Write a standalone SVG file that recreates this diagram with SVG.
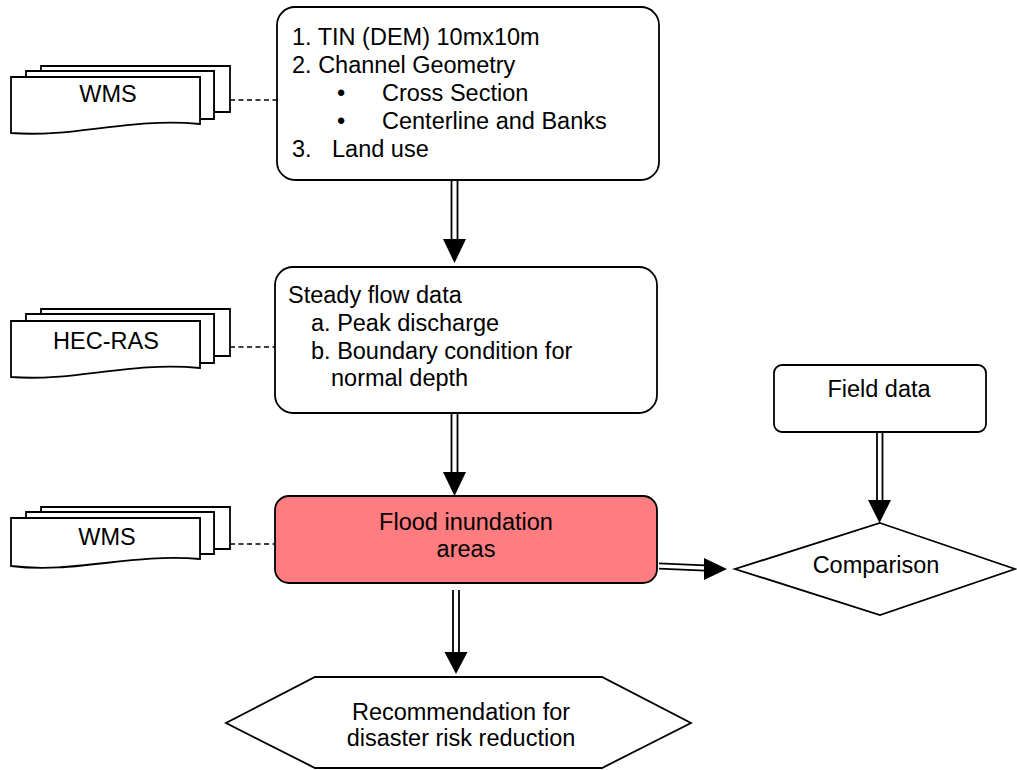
<svg xmlns="http://www.w3.org/2000/svg" width="1017" height="770" viewBox="0 0 1017 770">
<style>
  text { font-family: "Liberation Sans", Arial, sans-serif; font-size: 23.5px; fill: #000; }
  .box { fill: #fff; stroke: #000; stroke-width: 1.8; }
  .doc { fill: #fff; stroke: #000; stroke-width: 1.8; }
  .ln { stroke: #000; stroke-width: 1.8; fill: none; }
  .dash { stroke: #000; stroke-width: 1.5; stroke-dasharray: 5,3.5; fill: none; }
  .head { fill: #000; stroke: none; }
  .c { text-anchor: middle; }
</style>
<rect width="1017" height="770" fill="#fff"/>

<g id="connectors">
  <line class="dash" x1="230" y1="100" x2="277" y2="100"/>
  <line class="dash" x1="230" y1="347" x2="275" y2="347"/>
  <line class="dash" x1="230" y1="544" x2="275" y2="544"/>
  <!-- top to steady -->
  <line class="ln" x1="451.5" y1="180" x2="451.5" y2="240"/>
  <line class="ln" x1="457.5" y1="180" x2="457.5" y2="240"/>
  <polygon class="head" points="443,239 466,239 454.5,263"/>
  <!-- steady to flood -->
  <line class="ln" x1="451.5" y1="413" x2="451.5" y2="473"/>
  <line class="ln" x1="457.5" y1="413" x2="457.5" y2="473"/>
  <polygon class="head" points="443,472 466,472 454.5,496"/>
  <!-- flood to recommendation -->
  <line class="ln" x1="453" y1="590" x2="453" y2="653"/>
  <line class="ln" x1="459" y1="590" x2="459" y2="653"/>
  <polygon class="head" points="444.5,652 467.5,652 456,674"/>
  <!-- field to comparison -->
  <line class="ln" x1="877" y1="432" x2="877" y2="501"/>
  <line class="ln" x1="882.5" y1="432" x2="882.5" y2="501"/>
  <polygon class="head" points="868,500 891,500 879.5,523"/>
  <!-- flood to comparison -->
  <line class="ln" x1="659" y1="563.3" x2="705" y2="565.3"/>
  <line class="ln" x1="659" y1="568.6" x2="705" y2="570.6"/>
  <polygon class="head" points="704,558 704,580 727,569"/>
</g>

<g id="wms-top">
  <path class="doc" d="M41,66 H230 V112 H214 V71 H41 Z"/>
  <path class="doc" d="M26,71 H214 V119 H200 V77 H26 Z"/>
  <path class="doc" d="M11,77 H200 V124 C130,117 75,138 11,133 Z"/>
  <text class="c" x="108" y="102">WMS</text>
</g>

<g id="hecras">
  <path class="doc" d="M41,309 H230 V356 H214 V314 H41 Z"/>
  <path class="doc" d="M26,314 H214 V363 H200 V321 H26 Z"/>
  <path class="doc" d="M11,321 H200 V368 C130,361 75,382 11,377 Z"/>
  <text class="c" x="106" y="349">HEC-RAS</text>
</g>

<g id="wms-bottom">
  <path class="doc" d="M41,507 H230 V549 H214 V512 H41 Z"/>
  <path class="doc" d="M26,512 H214 V554 H200 V518 H26 Z"/>
  <path class="doc" d="M11,518 H200 V559 C130,553 75,574 11,566 Z"/>
  <text class="c" x="107" y="545">WMS</text>
</g>

<g id="terrain-data">
  <rect class="box" x="277" y="7" width="382" height="173" rx="18"/>
  <text x="292" y="45">1. TIN (DEM) 10mx10m</text>
  <text x="292" y="73">2. Channel Geometry</text>
  <text x="341" y="101" class="c">•</text>
  <text x="382" y="101">Cross Section</text>
  <text x="341" y="129" class="c">•</text>
  <text x="382" y="129">Centerline and Banks</text>
  <text x="292" y="157">3.</text>
  <text x="332" y="157">Land use</text>
</g>

<g id="steady-flow">
  <rect class="box" x="275" y="267" width="382" height="146" rx="18"/>
  <text x="288" y="303">Steady flow data</text>
  <text x="311" y="331">a. Peak discharge</text>
  <text x="311" y="359">b. Boundary condition for</text>
  <text x="331" y="386">normal depth</text>
</g>

<g id="flood">
  <rect x="275" y="496" width="382" height="87" rx="14" fill="#FF7C80" stroke="#000" stroke-width="1.8"/>
  <text class="c" x="466" y="530">Flood inundation</text>
  <text class="c" x="466" y="557">areas</text>
</g>

<g id="field-data">
  <rect class="box" x="774" y="365" width="212" height="67" rx="8"/>
  <text class="c" x="879" y="397">Field data</text>
</g>

<g id="comparison">
  <polygon class="box" points="880,523 1015,569 880,615 735,569"/>
  <text class="c" x="876" y="573">Comparison</text>
</g>

<g id="recommendation">
  <polygon class="box" points="315,677 602,677 691,723 602,768 315,768 226,723"/>
  <text class="c" x="461" y="720">Recommendation for</text>
  <text class="c" x="461" y="746">disaster risk reduction</text>
</g>
</svg>
